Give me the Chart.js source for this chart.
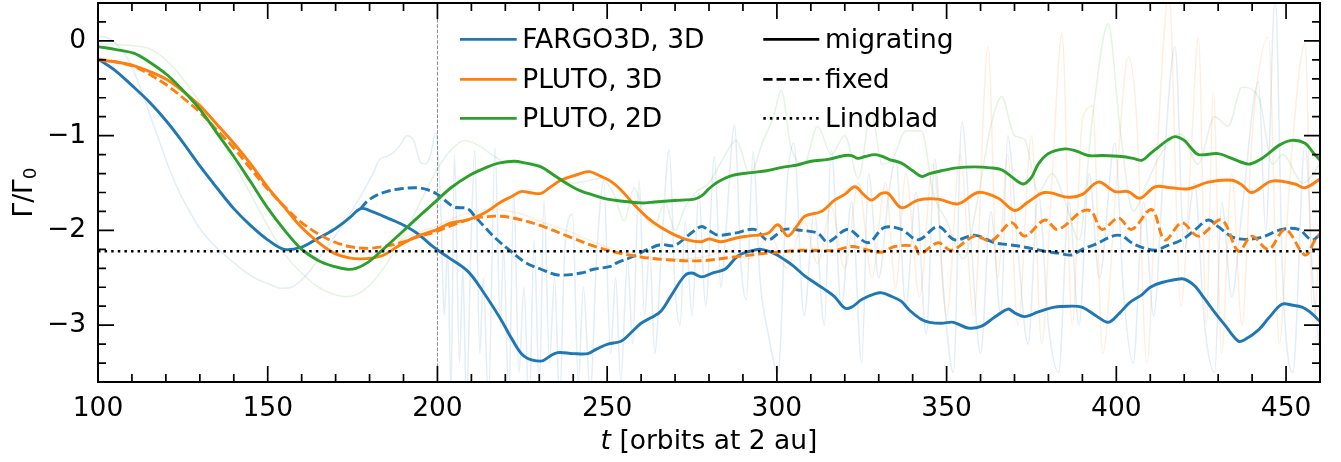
<!DOCTYPE html>
<html lang="en">
<head>
<meta charset="UTF-8">
<title>Torque on the planet</title>
<script src="https://cdn.jsdelivr.net/npm/chart.js"></script>
<style>
  html, body { margin: 0; padding: 0; background: #fff; }
  canvas { display: block; }
</style>
</head>
<body>
<canvas id="torque" width="1341" height="462"></canvas>
<script>
// ---- data (t in orbits at 2 au, torque in units of Gamma_0) ----
const tFargoMig = [100,105,110,115,120,125,130,135,140,145,150,154.8,159.7,164,169.5,174,177.4,180,184,189.2,194,199,203,208.9,213.5,218.7,222,225.6,230.5,233,235.4,240,244.3,247,250.2,254.1,257,260,263,265.9,269,272.8,275,277.8,281,284.7,288.5,292,295.4,299,302.3,305,308.2,311,314,317,320,322,325,328.8,331,334,336.7,339,342.6,345,348.5,352,356.3,360.3,364,368.1,370,373,377,381.8,386,389.8,394,397.6,401,404,407.5,410,413.4,419.3,421,423.2,426,429.1,432,436,438,441.9,445,448.8,452,454.7,457,460.3];
const gFargoMig = [-0.19,-0.31,-0.47,-0.64,-0.84,-1.07,-1.32,-1.55,-1.77,-1.95,-2.10,-2.20,-2.18,-2.10,-1.99,-1.87,-1.77,-1.79,-1.85,-1.93,-2.03,-2.18,-2.28,-2.43,-2.65,-2.94,-3.15,-3.33,-3.38,-3.33,-3.29,-3.30,-3.30,-3.25,-3.20,-3.17,-3.08,-2.98,-2.92,-2.85,-2.68,-2.48,-2.45,-2.49,-2.45,-2.41,-2.27,-2.22,-2.20,-2.24,-2.31,-2.38,-2.48,-2.55,-2.62,-2.70,-2.82,-2.81,-2.73,-2.67,-2.66,-2.70,-2.75,-2.84,-2.94,-2.97,-2.98,-2.97,-3.03,-3.01,-2.92,-2.83,-2.87,-2.91,-2.86,-2.81,-2.80,-2.81,-2.90,-2.97,-2.87,-2.76,-2.68,-2.60,-2.55,-2.51,-2.53,-2.59,-2.72,-2.87,-3.00,-3.17,-3.15,-3.05,-2.92,-2.78,-2.79,-2.81,-2.86,-2.97];

const tFargoFix = [177.4,179.4,182,185,189.2,194.1,197,200,204.8,208.9,211,213.8,217,221.6,226,230.5,235.4,242.3,246,251,253,258,262,265.9,269.8,274,277.7,280,282.6,287.5,293.4,297.3,302.2,307.2,312,315,320.9,326.8,331.6,336.7,341.6,347.5,352.4,358.2,364.1,368,372,378.9,383,386.8,390,393.6,400.6,405.5,411.4,415,419.3,423,427.1,430,434.9,441.9,448.8,453.7,457.6,460.3];
const gFargoFix = [-1.77,-1.69,-1.63,-1.59,-1.56,-1.55,-1.57,-1.62,-1.75,-1.77,-1.85,-1.96,-2.08,-2.22,-2.34,-2.41,-2.47,-2.45,-2.41,-2.38,-2.34,-2.27,-2.20,-2.15,-2.16,-2.05,-1.96,-2.00,-2.05,-2.03,-1.99,-2.10,-1.99,-2.00,-2.03,-2.12,-1.99,-2.13,-1.97,-1.99,-2.10,-1.96,-2.10,-2.05,-2.13,-2.15,-2.17,-2.22,-2.24,-2.26,-2.20,-2.15,-2.05,-2.15,-2.21,-2.16,-2.10,-2.00,-1.89,-1.96,-2.08,-2.08,-1.99,-1.99,-2.10,-2.03];

const tPluto3Mig = [100,105,110.5,115,120.4,125,130.2,135,140,145,149.9,155,159.7,165,169.5,174,177.4,181,184.2,189.2,194.1,200,204,208.9,213.7,218.7,222,224.6,227,230.5,233,236.4,241.3,244.6,248.2,251,254,258,262,265.9,270,273.7,277.7,280,283.6,288,291.5,297.3,300.3,303.2,306,308.2,313.1,317,320,323,325.5,327.9,330.8,332.8,336.7,341.6,347.5,353.4,359.3,365.2,370,374,378.9,385.9,390,394.7,399.6,403.5,406.9,411.4,416,421.3,427.1,434,437,439.9,445.8,452.6,455.6,460.3];
const gPluto3Mig = [-0.20,-0.22,-0.26,-0.32,-0.41,-0.53,-0.69,-0.88,-1.08,-1.30,-1.54,-1.76,-1.96,-2.13,-2.24,-2.29,-2.30,-2.29,-2.26,-2.15,-2.06,-1.99,-1.92,-1.89,-1.82,-1.70,-1.64,-1.59,-1.60,-1.61,-1.55,-1.47,-1.41,-1.38,-1.43,-1.48,-1.57,-1.73,-1.87,-1.97,-2.05,-2.10,-2.12,-2.09,-2.12,-2.08,-2.06,-2.03,-1.94,-2.06,-1.95,-1.85,-1.80,-1.68,-1.62,-1.54,-1.62,-1.68,-1.61,-1.61,-1.76,-1.68,-1.67,-1.72,-1.60,-1.66,-1.79,-1.70,-1.60,-1.65,-1.62,-1.49,-1.59,-1.59,-1.66,-1.54,-1.55,-1.56,-1.49,-1.47,-1.52,-1.60,-1.48,-1.51,-1.55,-1.45];

const tPluto3Fix = [100,105,110.5,115,120.4,125,130.2,135,140,145,149.9,155,159.7,165,169.5,174,179.4,184,189.2,194,199,204,208.9,213,218.7,223.6,230.5,238.3,248.2,258,267.8,277.7,287.5,297.3,307.2,317,322,326,330.8,334.7,340.6,342.1,347.5,351.4,358.2,363.2,369.1,373,378.9,382.8,389.8,392.7,395.7,400.6,404.5,410.4,414.3,419.3,424.2,431,436,439.9,444.8,449.8,455.6,458.6,460.3];
const gPluto3Fix = [-0.19,-0.22,-0.27,-0.35,-0.47,-0.60,-0.76,-0.94,-1.13,-1.35,-1.56,-1.75,-1.91,-2.04,-2.12,-2.17,-2.19,-2.17,-2.13,-2.07,-2.02,-1.95,-1.89,-1.86,-1.85,-1.88,-1.95,-2.06,-2.19,-2.27,-2.31,-2.32,-2.28,-2.24,-2.21,-2.21,-2.17,-2.20,-2.23,-2.17,-2.17,-2.25,-2.13,-2.21,-2.06,-2.11,-1.92,-2.06,-1.89,-1.99,-1.80,-1.80,-1.99,-1.87,-1.99,-1.78,-2.10,-1.92,-2.06,-1.89,-2.22,-2.06,-2.20,-1.99,-2.26,-2.10,-2.03];

const tPluto2Mig = [100,105,110.5,115,120.4,125,130.2,135,140,145,149.9,155,159.7,165,169.5,173.4,176,179.4,184,189.2,194,199,204,208.9,214.8,218,222.6,226,230.5,234,238.3,242,246.2,250,254,260,264,267.8,272,275.7,278,280,282.6,287,292.4,297,302.2,306,310.1,315,320,322,323.9,326,328.8,331,333,336.7,340,342.6,345,348.5,353,358.2,363,366.2,369,372.5,375,377,379.9,384.8,388,391.7,396,401.5,405,407.5,410,412.4,415,417.3,420,422,424.2,430,434,438.9,442,444.8,448,451.6,455.6,458,460.3];
const gPluto2Mig = [-0.06,-0.09,-0.13,-0.22,-0.36,-0.52,-0.73,-0.97,-1.22,-1.49,-1.76,-2.00,-2.19,-2.32,-2.38,-2.41,-2.40,-2.34,-2.20,-2.03,-1.87,-1.71,-1.55,-1.43,-1.33,-1.29,-1.27,-1.29,-1.33,-1.41,-1.51,-1.58,-1.63,-1.67,-1.69,-1.71,-1.70,-1.69,-1.68,-1.67,-1.63,-1.56,-1.49,-1.42,-1.39,-1.37,-1.33,-1.31,-1.27,-1.25,-1.21,-1.21,-1.24,-1.22,-1.20,-1.22,-1.25,-1.29,-1.37,-1.43,-1.40,-1.37,-1.34,-1.33,-1.34,-1.36,-1.43,-1.51,-1.44,-1.30,-1.19,-1.14,-1.16,-1.21,-1.21,-1.22,-1.24,-1.26,-1.19,-1.12,-1.05,-1.01,-1.05,-1.13,-1.20,-1.19,-1.24,-1.30,-1.26,-1.19,-1.10,-1.05,-1.08,-1.18,-1.27];

// raw (unsmoothed) traces, drawn faintly underneath
const tFargoRaw = [100,103,106,109,112,115,118,121,124,127,130,134,138,142,146,150,154,157,160,163,166,169,172,175,178,181,183,185,187,189,191,193,195,196.5,198,199.5,201,202,203,204,205,206.5,207.5,208.5,210,211,212.5,213.5,215,217,218.5,219.5,221,222.5,224,225.5,227,228.5,230,231.4,233,234.5,236,237.5,239.8,241.5,243,245,247,249,251,252.5,254,256,257.5,259.4,261,262.5,264,266,268.3,270,271.5,273,275,277,279,281.6,283.5,285,287.5,289.5,291,293,295,297.5,300.3,303,305,308,311,314,316,319,322,325,327,330,333,335,338,341,344,346.5,349,352,354.5,357,360,363,366,368,371,374,377,380,383,386,389,392,395,399.6,402,405,408,411,414,417.3,420,423,426,429,431,434,437,441.9,444,446.8,449,452,455.6,458,460];
const gFargoRaw = [0.05,0.03,-0.05,-0.2,-0.45,-0.75,-1.05,-1.35,-1.6,-1.8,-1.98,-2.15,-2.28,-2.4,-2.5,-2.56,-2.61,-2.6,-2.52,-2.4,-2.25,-2.1,-1.95,-1.78,-1.6,-1.4,-1.25,-1.22,-1.18,-1.1,-1.0,-1.05,-1.28,-1.3,-1.2,-0.97,-1.8,-2.9,-2.2,-3.7,-1.2,-3.4,-2.4,-3.8,-2.0,-1.15,-3.3,-2.5,-3.8,-1.13,-3.0,-2.2,-3.8,-1.6,-3.5,-2.6,-3.9,-2.1,-3.7,-1.68,-3.4,-2.5,-3.8,-2.2,-1.83,-3.6,-2.6,-3.7,-2.2,-1.48,-3.3,-2.5,-3.6,-2.3,-3.2,-1.47,-2.9,-2.2,-3.3,-2.2,-1.15,-2.6,-3.0,-1.9,-2.9,-1.6,-2.8,-1.22,-2.6,-2.0,-0.89,-2.4,-2.73,-1.17,-2.5,-3.1,-3.5,-1.5,-1.08,-2.9,-1.8,-3.0,-1.15,-2.8,-1.7,-3.4,-1.4,-2.5,-1.6,-1.25,-2.8,-1.6,-3.1,-1.25,-2.6,-3.5,-0.85,-2.0,-3.3,-1.8,-2.9,-1.0,-2.2,-3.2,-1.6,-3.0,-3.5,-1.7,-3.0,-1.4,-2.5,-1.08,-2.6,-3.4,-1.7,-2.9,-1.3,-0.06,-2.2,-1.5,-3.0,-3.5,-1.7,-2.7,-1.8,-0.43,-2.0,0.45,-2.5,-3.5,-1.08,-2.6,-3.3];

const tPluto3Raw = [100,110,120,130,140,150,160,170,178,185,192,200,206,212,218,224,230,238,246,254,262,270,278,286,292,298,303,308,312,316,320,324,328,332,335,338,342,346,350,354,358,362.2,365,368,371,375,378,381,384,387,390,393,396,400,403.5,406,409,412,415.5,419,422,424.2,426.5,428.6,431,434,437,440,444.8,448,451,455.6,458,460];
const gPluto3Raw = [-0.2,-0.26,-0.42,-0.7,-1.08,-1.55,-1.96,-2.22,-2.25,-2.2,-2.05,-1.95,-1.85,-1.79,-1.78,-1.82,-1.9,-2.0,-2.12,-2.22,-2.28,-2.3,-2.28,-2.22,-2.3,-2.05,-2.4,-1.9,-2.35,-1.75,-2.4,-1.5,-2.5,-1.5,-2.6,-1.4,-2.7,-1.3,-2.9,-1.2,-2.9,-0.06,-2.5,-1.2,-3.0,-1.0,-3.2,-1.5,0.08,-3.0,-0.83,-0.69,-3.3,-1.5,-0.17,-0.83,-3.4,-1.2,0.5,-2.8,-1.2,0.04,-3.0,-0.55,-3.3,-1.4,-3.0,-1.0,0.04,-3.2,-1.5,-0.03,-3.0,-2.0];

const tPluto2Raw = [100,110,115,120,125,130,135,140,145,150,155,160,165,170,173,176,180,185,190,195,200,204,208,212,216,220,224,228,232,236,240,244,248,252,255,258,261,264,267,270,273,276,280,284,288,292,296,299,301.3,304,308,312,316,320,324,327.8,331,334,338,342.6,346,350,355,359,363,366.2,370,373,377,381,385,389,393,397.6,401,405,409,413,419,424,429,433,437,442,446,449,455,460];
const gPluto2Raw = [-0.03,-0.05,-0.08,-0.2,-0.4,-0.65,-0.95,-1.28,-1.62,-1.95,-2.25,-2.45,-2.6,-2.68,-2.7,-2.68,-2.58,-2.35,-2.05,-1.7,-1.35,-1.15,-1.05,-1.1,-1.2,-1.28,-1.3,-1.28,-1.35,-1.45,-1.5,-1.48,-1.45,-1.62,-1.9,-1.55,-1.85,-1.95,-1.7,-2.0,-1.75,-1.6,-1.5,-1.25,-1.05,-1.4,-1.05,-0.8,-0.52,-1.1,-1.3,-0.9,-1.2,-1.0,-1.45,-0.75,-1.3,-1.25,-0.95,-0.95,-1.6,-1.9,-2.3,-1.7,-0.9,-0.59,-1.0,-1.04,-1.6,-1.4,-1.7,-2.1,-0.8,0.18,-0.9,-1.8,-1.5,-1.2,-0.98,-1.3,-0.8,-0.9,-0.49,-0.6,-1.3,-1.2,-1.5,-1.3];

const lindbladT = [100, 460];
const lindbladG = -2.22;
const releaseT = 200;

const xMajorTicks = [100, 150, 200, 250, 300, 350, 400, 450];
const yMajorTicks = [-3, -2, -1, 0];

const BLUE = '#1f77b4', ORANGE = '#ff7f0e', GREEN = '#2ca02c';
const FONT = '"DejaVu Sans", sans-serif';
const FS = 26.5;
const DASHED = [9.25, 4];
const DOTTED = [2.5, 4.1];

function pts(t, g) {
    return t.map((v, i) => ({ x: v, y: Array.isArray(g) ? g[i] : g }));
}

function faint(hex) {
    const n = parseInt(hex.slice(1), 16);
    return 'rgba(' + (n >> 16) + ',' + ((n >> 8) & 255) + ',' + (n & 255) + ',0.13)';
}

// frame, inward ticks on all sides, axis titles and the two-column legend
const decor = {
    id: 'decor',
    beforeDatasetsDraw(chart) {
        const { ctx, chartArea: a, scales: { x } } = chart;
        const px = x.getPixelForValue(releaseT);
        ctx.save();
        ctx.strokeStyle = '#8a8a8a';
        ctx.lineWidth = 1;
        ctx.setLineDash([3.7, 1.6]);
        ctx.beginPath();
        ctx.moveTo(px, a.top);
        ctx.lineTo(px, a.bottom);
        ctx.stroke();
        ctx.restore();
    },
    afterDraw(chart) {
        const { ctx, chartArea: a, scales: { x, y } } = chart;
        ctx.save();
        ctx.strokeStyle = '#000';
        ctx.lineWidth = 1.7;
        ctx.beginPath();
        for (let v = 100; v <= 460; v += 10) {
            const len = v % 50 === 0 ? 16 : 8;
            const p = x.getPixelForValue(v);
            ctx.moveTo(p, a.bottom); ctx.lineTo(p, a.bottom - len);
            ctx.moveTo(p, a.top); ctx.lineTo(p, a.top + len);
        }
        for (let k = -18; k <= 2; k++) {
            const len = k % 5 === 0 ? 16 : 8;
            const p = y.getPixelForValue(k / 5);
            ctx.moveTo(a.left, p); ctx.lineTo(a.left + len, p);
            ctx.moveTo(a.right, p); ctx.lineTo(a.right - len, p);
        }
        ctx.stroke();
        ctx.lineWidth = 2;
        ctx.strokeRect(a.left, a.top, a.right - a.left, a.bottom - a.top);

        // axis titles
        ctx.fillStyle = '#000';
        ctx.textBaseline = 'alphabetic';
        const rest = ' [orbits at 2 au]';
        ctx.font = 'italic ' + FS + 'px ' + FONT;
        const wt = ctx.measureText('t').width;
        ctx.font = FS + 'px ' + FONT;
        const wr = ctx.measureText(rest).width;
        let sx = (a.left + a.right) / 2 - (wt + wr) / 2;
        ctx.font = 'italic ' + FS + 'px ' + FONT;
        ctx.fillText('t', sx, 449);
        ctx.font = FS + 'px ' + FONT;
        ctx.fillText(rest, sx + wt, 449);

        ctx.translate(32, (a.top + a.bottom) / 2);
        ctx.rotate(-Math.PI / 2);
        ctx.font = FS + 'px ' + FONT;
        const w1 = ctx.measureText('Γ/Γ').width;
        ctx.font = '18.5px ' + FONT;
        const w2 = ctx.measureText('0').width;
        sx = -(w1 + w2) / 2;
        ctx.font = FS + 'px ' + FONT;
        ctx.fillText('Γ/Γ', sx, 0);
        ctx.font = '18.5px ' + FONT;
        ctx.fillText('0', sx + w1, 4);
        ctx.setTransform(1, 0, 0, 1, 0, 0);

        // legend
        const rows = [39.3, 79.3, 118.3];
        const models = [['FARGO3D, 3D', BLUE], ['PLUTO, 3D', ORANGE], ['PLUTO, 2D', GREEN]];
        const styles = [['migrating', []], ['fixed', DASHED], ['Lindblad', DOTTED]];
        ctx.lineWidth = 2.8;
        ctx.font = FS + 'px ' + FONT;
        models.forEach(([label, col], i) => {
            ctx.strokeStyle = col;
            ctx.setLineDash([]);
            ctx.beginPath(); ctx.moveTo(460, rows[i]); ctx.lineTo(516.7, rows[i]); ctx.stroke();
            ctx.fillText(label, 522.3, rows[i] + 9);
        });
        styles.forEach(([label, dash], i) => {
            ctx.strokeStyle = '#000';
            ctx.setLineDash(dash);
            ctx.beginPath(); ctx.moveTo(763.3, rows[i]); ctx.lineTo(819.3, rows[i]); ctx.stroke();
            ctx.fillText(label, 825, rows[i] + 9);
        });
        ctx.restore();
    }
};

function line(data, color, opts) {
    return Object.assign({
        data: data, borderColor: color, borderWidth: 2.9, pointRadius: 0,
        tension: 0.35, fill: false
    }, opts || {});
}

function rawLine(data, color, order) {
    return line(data, faint(color), { borderWidth: 1.5, tension: 0, cubicInterpolationMode: 'monotone', order: order });
}

const ctx = document.getElementById('torque').getContext('2d');
new Chart(ctx, {
    type: 'line',
    data: {
        datasets: [
            line(pts(lindbladT, lindbladG), '#000', { borderDash: DOTTED, borderWidth: 2.6, tension: 0, order: 0 }),
            line(pts(tPluto2Mig, gPluto2Mig), GREEN, { order: 1 }),
            line(pts(tPluto3Fix, gPluto3Fix), ORANGE, { borderDash: DASHED, order: 2 }),
            line(pts(tPluto3Mig, gPluto3Mig), ORANGE, { order: 3 }),
            line(pts(tFargoFix, gFargoFix), BLUE, { borderDash: DASHED, order: 4 }),
            line(pts(tFargoMig, gFargoMig), BLUE, { order: 5 }),
            rawLine(pts(tPluto2Raw, gPluto2Raw), GREEN, 6),
            rawLine(pts(tPluto3Raw, gPluto3Raw), ORANGE, 7),
            rawLine(pts(tFargoRaw, gFargoRaw), BLUE, 8)
        ]
    },
    options: {
        responsive: false,
        animation: false,
        layout: { padding: { left: 0, right: 21, top: 3, bottom: 0 } },
        plugins: { legend: { display: false }, tooltip: { enabled: false } },
        scales: {
            x: {
                type: 'linear', min: 100, max: 460,
                grid: { display: false, drawTicks: false },
                border: { display: false },
                afterBuildTicks: s => { s.ticks = xMajorTicks.map(v => ({ value: v })); },
                afterFit: s => { s.height = 80; s.paddingLeft = 0; s.paddingRight = 0; },
                ticks: {
                    padding: 11, color: '#000', maxRotation: 0, autoSkip: false,
                    font: { family: FONT, size: FS },
                    callback: v => String(v)
                }
            },
            y: {
                type: 'linear', min: -3.6, max: 0.4,
                grid: { display: false, drawTicks: false },
                border: { display: false },
                afterBuildTicks: s => { s.ticks = yMajorTicks.map(v => ({ value: v })); },
                afterFit: s => { s.width = 98; s.paddingTop = 0; s.paddingBottom = 0; },
                ticks: {
                    padding: 12, color: '#000', autoSkip: false,
                    font: { family: FONT, size: FS },
                    callback: v => v < 0 ? '\u2212' + Math.abs(v) : String(v)
                }
            }
        }
    },
    plugins: [decor]
});
</script>
</body>
</html>
